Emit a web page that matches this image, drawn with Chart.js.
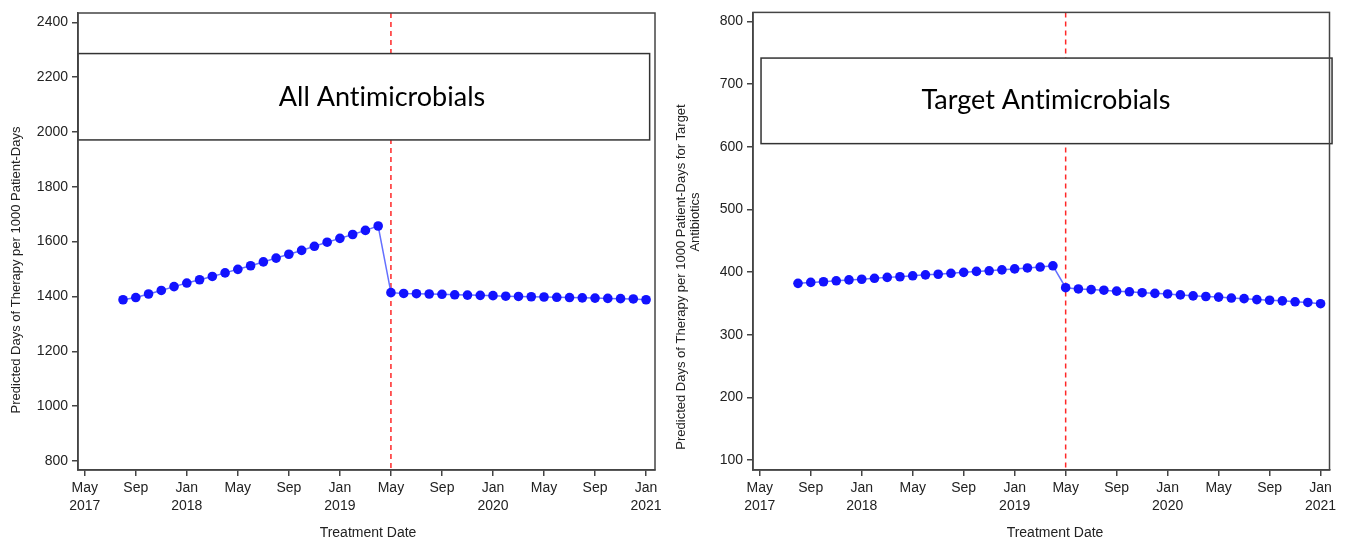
<!DOCTYPE html>
<html>
<head>
<meta charset="utf-8">
<script src="https://cdn.jsdelivr.net/npm/chart.js@4.4.1/dist/chart.umd.min.js"></script>
<style>
    body { margin: 0; background: #fff; width: 1347px; height: 543px; position: relative; overflow: hidden; }
    .panel { position: absolute; top: 0; height: 543px; }
</style>
</head>
<body>
<div class="panel" style="left:0;width:670px"><canvas id="allChart"></canvas></div>
<div class="panel" style="left:670px;width:677px"><canvas id="targetChart"></canvas></div>
<script>
// monthly predicted DOT, Aug 2017 - Jan 2021
const months = [
    '2017-08', '2017-09', '2017-10', '2017-11', '2017-12',
    '2018-01', '2018-02', '2018-03', '2018-04', '2018-05', '2018-06',
    '2018-07', '2018-08', '2018-09', '2018-10', '2018-11', '2018-12',
    '2019-01', '2019-02', '2019-03', '2019-04',
    '2019-05', '2019-06', '2019-07', '2019-08', '2019-09', '2019-10',
    '2019-11', '2019-12', '2020-01', '2020-02', '2020-03', '2020-04',
    '2020-05', '2020-06', '2020-07', '2020-08', '2020-09', '2020-10',
    '2020-11', '2020-12', '2021-01'
];

const allAbx = [
    1388, 1396, 1409, 1422, 1436, 1449, 1461, 1473, 1486, 1499, 1512,
    1526, 1540, 1554, 1568, 1583, 1598, 1612, 1626, 1641, 1657,
    1414, 1411, 1410, 1409, 1408, 1406, 1405, 1404, 1403, 1401, 1400,
    1399, 1398, 1397, 1396, 1395, 1394, 1393, 1392, 1391, 1388
];

const targetAbx = [
    382, 383.5, 384.5, 386, 387.5, 388.5, 390, 391.5, 392.5, 394, 395.5,
    396.5, 398, 399.5, 401, 402, 403.5, 405, 406.5, 408, 410,
    375, 373, 372, 371, 369.5, 368.5, 367, 366, 365, 363.5, 362,
    361, 360, 358.5, 357.5, 356, 355, 354, 352.5, 351.5, 349.5
];

const xTickLabels = [
    ['May', '2017'], ['Sep', ''], ['Jan', '2018'], ['May', ''], ['Sep', ''], ['Jan', '2019'],
    ['May', ''], ['Sep', ''], ['Jan', '2020'], ['May', ''], ['Sep', ''], ['Jan', '2021']
];
const xTickMonths = ['2017-05', '2017-09', '2018-01', '2018-05', '2018-09', '2019-01',
    '2019-05', '2019-09', '2020-01', '2020-05', '2020-09', '2021-01'];
const allTicks = [800, 1000, 1200, 1400, 1600, 1800, 2000, 2200, 2400];
const targetTicks = [100, 200, 300, 400, 500, 600, 700, 800];
const interventionMonth = '2019-05';

// months counted from May 2017
function monthIndex(s) {
    const [y, m] = s.split('-').map(Number);
    return (y - 2017) * 12 + (m - 5);
}

const tickFont = "'Liberation Sans', Arial, sans-serif";
const axisColor = '#444';
const textColor = '#222';

const overlay = {
    id: 'overlay',
    beforeDatasetsDraw(chart, args, opts) {
        const { ctx, chartArea, scales } = chart;
        const xs = scales.x, ys = scales.y;
        ctx.save();
        // intervention line
        const lx = xs.getPixelForValue(monthIndex(interventionMonth));
        ctx.strokeStyle = 'rgb(255,40,40)';
        ctx.lineWidth = 1.5;
        ctx.setLineDash([5, 4]);
        ctx.beginPath();
        ctx.moveTo(lx, chartArea.top);
        ctx.lineTo(lx, chartArea.bottom);
        ctx.stroke();
        ctx.setLineDash([]);
        // label box
        const b = opts.box;
        const x0 = xs.getPixelForValue(b.x0), x1 = xs.getPixelForValue(b.x1);
        const y0 = ys.getPixelForValue(b.y1), y1 = ys.getPixelForValue(b.y0);
        ctx.fillStyle = '#fff';
        ctx.fillRect(x0, y0, x1 - x0, y1 - y0);
        ctx.strokeStyle = '#333';
        ctx.lineWidth = 1.5;
        ctx.strokeRect(x0, y0, x1 - x0, y1 - y0);
        ctx.fillStyle = '#000';
        ctx.font = b.font;
        ctx.textAlign = 'center';
        ctx.textBaseline = 'middle';
        // ZWNJ keeps Lato from joining "ti"
        ctx.fillText(b.text.replace(/ti/g, 't\u200Ci'), xs.getPixelForValue(b.tx), ys.getPixelForValue(b.ty));
        ctx.restore();
    },
    afterDraw(chart, args, opts) {
        const { ctx, chartArea } = chart;
        ctx.save();
        ctx.strokeStyle = axisColor;
        ctx.lineWidth = 1.5;
        ctx.strokeRect(chartArea.left, chartArea.top, chartArea.right - chartArea.left, chartArea.bottom - chartArea.top);
        ctx.fillStyle = textColor;
        ctx.textAlign = 'center';
        ctx.textBaseline = 'middle';
        ctx.font = '14px ' + tickFont;
        ctx.fillText('Treatment Date', opts.xTitle.x, opts.xTitle.y);
        ctx.font = '13px ' + tickFont;
        for (const t of opts.yTitle) {
            ctx.save();
            ctx.translate(t.x, t.y);
            ctx.rotate(-Math.PI / 2);
            ctx.fillText(t.text, 0, 0);
            ctx.restore();
        }
        ctx.restore();
    }
};

function makeChart(id, values, yMin, yMax, yTicks, o) {
    return new Chart(document.getElementById(id), {
        type: 'line',
        data: {
            datasets: [{
                data: months.map((m, i) => ({ x: monthIndex(m), y: values[i] })),
                borderColor: 'rgb(100,112,255)',
                borderWidth: 1.5,
                pointRadius: 4.8,
                pointHoverRadius: 4.8,
                pointBorderWidth: 0,
                pointBackgroundColor: 'rgb(18,18,255)',
                tension: 0
            }]
        },
        options: {
            responsive: true,
            maintainAspectRatio: false,
            animation: false,
            layout: { padding: { left: 0, right: o.padRight, top: o.padTop, bottom: 0 } },
            plugins: {
                legend: { display: false },
                tooltip: { enabled: false },
                overlay: { box: o.box, xTitle: o.xTitle, yTitle: o.yTitle }
            },
            scales: {
                x: {
                    type: 'linear',
                    min: -0.53,
                    max: 44.7,
                    afterBuildTicks: s => { s.ticks = xTickMonths.map(m => ({ value: monthIndex(m) })); },
                    afterFit: s => { s.height = 73; },
                    grid: { display: true, drawOnChartArea: false, drawTicks: true, tickLength: 6, color: axisColor, lineWidth: 1.5 },
                    border: { display: true, color: axisColor, width: 1.5 },
                    ticks: {
                        callback: (v, i) => xTickLabels[i],
                        font: { family: tickFont, size: 14, lineHeight: 1.3 },
                        color: textColor,
                        padding: 3,
                        maxRotation: 0,
                        autoSkip: false
                    }
                },
                y: {
                    min: yMin,
                    max: yMax,
                    afterBuildTicks: s => { s.ticks = yTicks.map(v => ({ value: v })); },
                    afterFit: s => { s.width = o.yWidth; },
                    grid: { display: true, drawOnChartArea: false, drawTicks: true, tickLength: 6, color: axisColor, lineWidth: 1.5 },
                    border: { display: true, color: axisColor, width: 1.5 },
                    ticks: {
                        callback: v => String(v),
                        font: { family: tickFont, size: 14 },
                        color: textColor,
                        padding: 4
                    }
                }
            }
        },
        plugins: [overlay]
    });
}

makeChart('allChart', allAbx, 767, 2434, allTicks, {
    padRight: 15,
    padTop: 13,
    yWidth: 78,
    box: { x0: -0.53, x1: 44.28, y0: 1971, y1: 2286, tx: 23.3, ty: 2128, text: 'All Antimicrobials', font: "27px Lato, 'Open Sans', sans-serif" },
    xTitle: { x: 368, y: 533 },
    yTitle: [{ text: 'Predicted Days of Therapy per 1000 Patient-Days', x: 16, y: 270 }]
});

makeChart('targetChart', targetAbx, 84, 814.5, targetTicks, {
    padRight: 17.5,
    padTop: 11,
    yWidth: 83,
    box: { x0: 0.1, x1: 44.9, y0: 605, y1: 741.6, tx: 22.45, ty: 674, text: 'Target Antimicrobials', font: "27px Lato, 'Open Sans', sans-serif" },
    xTitle: { x: 385, y: 533 },
    yTitle: [
        { text: 'Predicted Days of Therapy per 1000 Patient-Days for Target', x: 11, y: 277 },
        { text: 'Antibiotics', x: 25, y: 222 }
    ]
});
</script>
</body>
</html>
